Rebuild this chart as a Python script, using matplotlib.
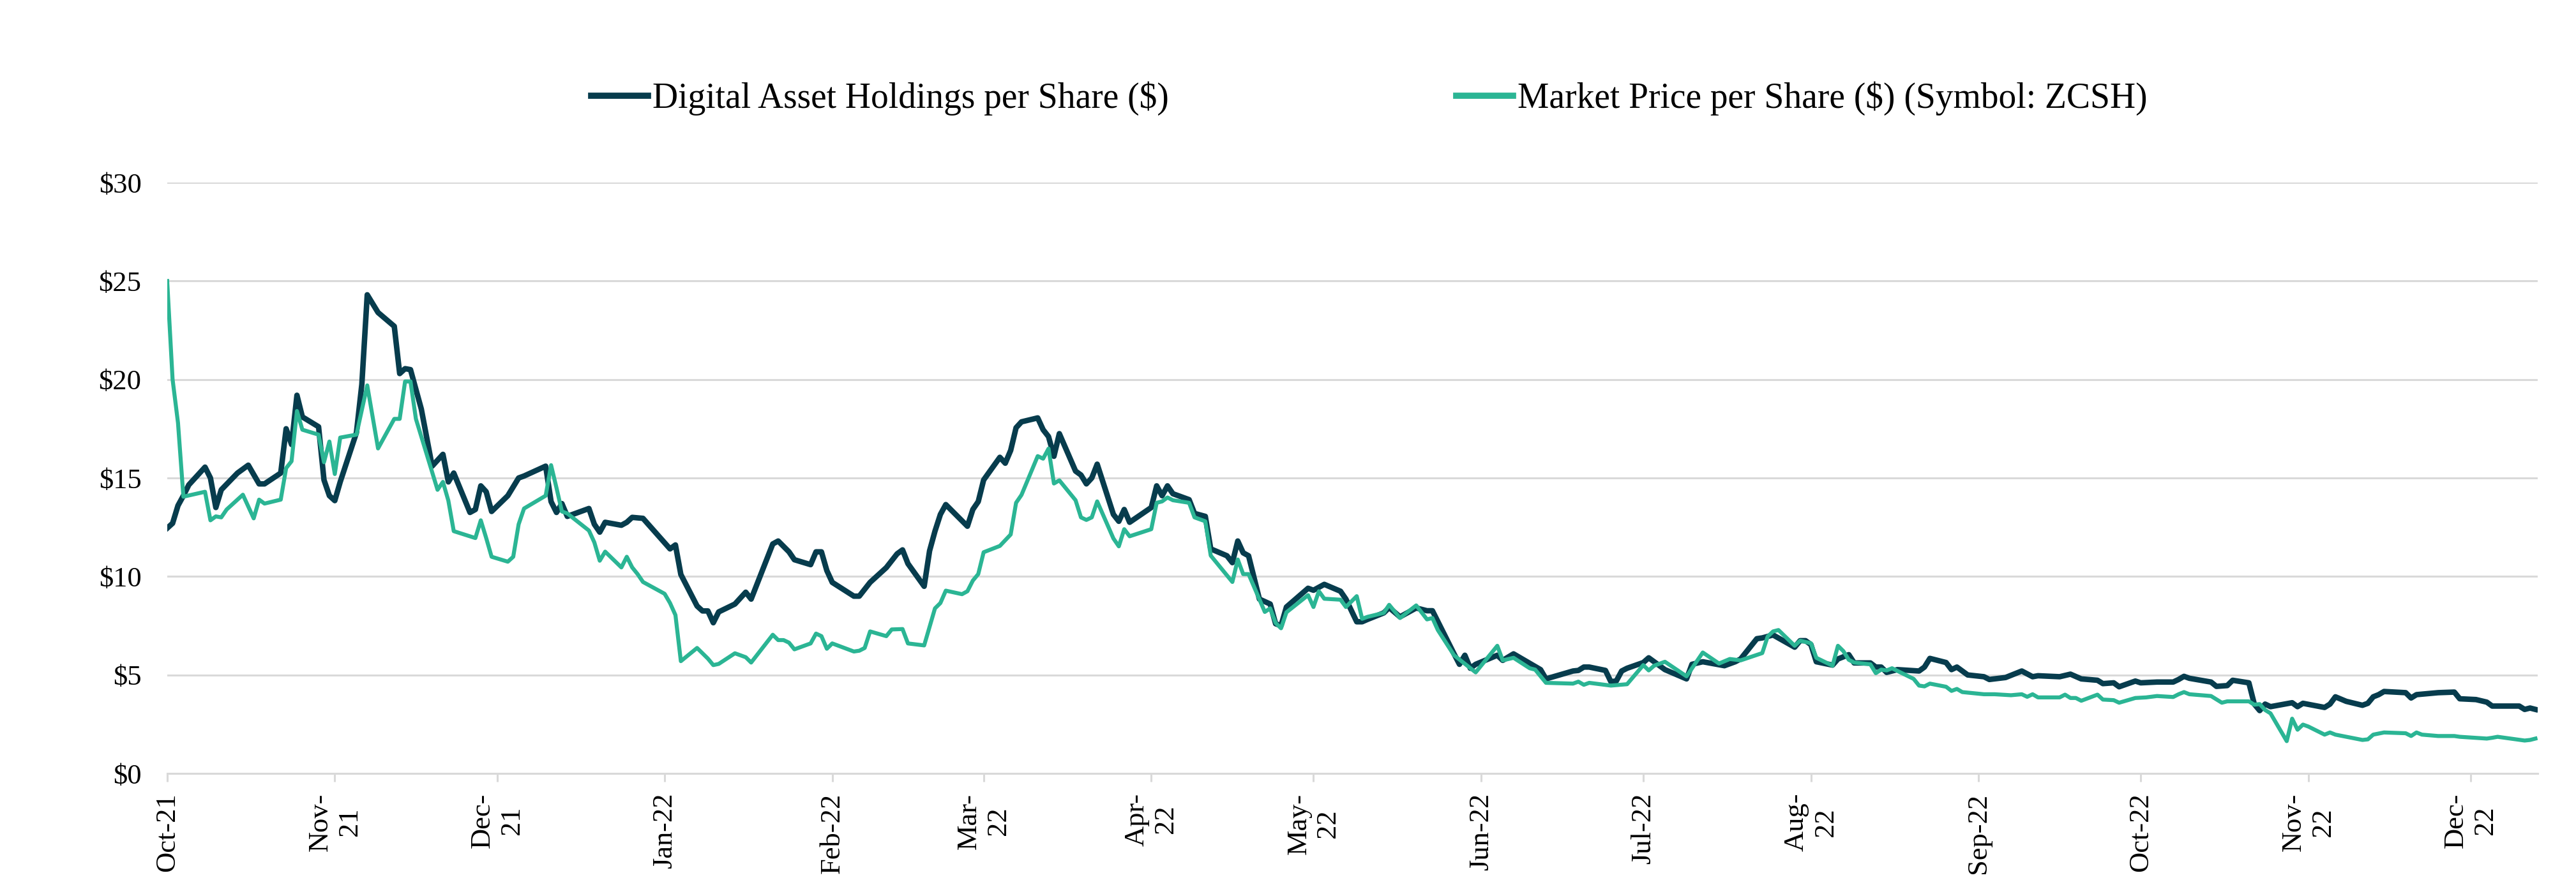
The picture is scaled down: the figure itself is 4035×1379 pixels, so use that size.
import matplotlib.pyplot as plt
import pandas as pd

plt.rcParams["font.family"] = ["Liberation Serif", "DejaVu Serif"]

start = pd.Timestamp("2021-10-01")

# Digital asset holdings per share (days since 2021-10-01, $)
holdings_day = [0, 1, 2, 3, 4, 7, 8, 9, 10, 13, 15, 17, 18, 21, 22, 23, 24, 25, 28, 29,
                30, 31, 32, 35, 36, 37, 39, 42, 43, 44, 45, 47, 49, 51, 52, 53, 56, 57, 58, 59,
                60, 63, 65, 66, 70, 71, 72, 73, 74, 78, 79, 80, 81, 84, 85, 86, 88, 93, 94, 95,
                98, 99, 100, 101, 102, 105, 107, 108, 112, 113, 115, 116, 119, 120, 121, 122, 123, 127, 128, 130,
                133, 135, 136, 137, 140, 141, 142, 143, 144, 148, 149, 150, 151, 154, 155, 156, 157, 158, 161, 162,
                163, 164, 165, 168, 169, 170, 171, 172, 175, 176, 177, 178, 182, 183, 184, 185, 186, 189, 190, 192,
                193, 196, 197, 198, 199, 200, 202, 204, 205, 206, 207, 211, 212, 214, 217, 218, 220, 221, 222, 225,
                226, 228, 231, 233, 234, 238, 239, 240, 241, 242, 246, 247, 249, 254, 255, 260, 261, 262, 263, 266,
                267, 268, 269, 270, 273, 274, 277, 281, 282, 284, 288, 290, 291, 294, 295, 297, 301, 302, 303, 304,
                305, 308, 309, 311, 312, 315, 316, 317, 318, 320, 324, 325, 326, 329, 330, 331, 332, 333, 336, 337,
                340, 343, 345, 346, 350, 352, 354, 357, 358, 360, 361, 364, 365, 368, 371, 372, 373, 374, 378, 379,
                381, 382, 385, 386, 387, 388, 389, 393, 394, 395, 399, 400, 401, 403, 406, 407, 408, 409, 410, 414,
                415, 416, 420, 423, 424, 427, 429, 430, 435, 436, 437, 438]
holdings_val = [12.45, 12.7, 13.6, 14.1, 14.65, 15.55, 15.0, 13.5, 14.4, 15.25, 15.65, 14.7, 14.7, 15.25, 17.5, 16.7, 19.2, 18.1, 17.6, 14.9,
                14.1, 13.85, 14.8, 17.3, 19.75, 24.3, 23.4, 22.7, 20.3, 20.55, 20.5, 18.5, 15.6, 16.2, 14.8, 15.25, 13.25, 13.4, 14.6, 14.3,
                13.3, 14.1, 15.0, 15.1, 15.6, 13.8, 13.25, 13.7, 13.05, 13.45, 12.65, 12.25, 12.75, 12.6, 12.75, 13.0, 12.95, 11.4, 11.6, 10.1,
                8.5, 8.25, 8.25, 7.65, 8.2, 8.6, 9.2, 8.85, 11.65, 11.8, 11.25, 10.85, 10.6, 11.25, 11.25, 10.3, 9.7, 9.0, 9.0, 9.7,
                10.45, 11.15, 11.35, 10.65, 9.5, 11.3, 12.3, 13.15, 13.65, 12.55, 13.4, 13.8, 14.9, 16.05, 15.75, 16.4, 17.55, 17.85, 18.05, 17.45,
                17.1, 16.1, 17.25, 15.35, 15.15, 14.7, 15.0, 15.7, 13.15, 12.8, 13.4, 12.75, 13.5, 14.6, 14.1, 14.6, 14.2, 13.9, 13.2, 13.05,
                11.4, 11.05, 10.7, 11.8, 11.2, 11.05, 8.85, 8.6, 7.6, 7.5, 8.45, 9.4, 9.3, 9.6, 9.25, 8.85, 7.7, 7.7, 7.82, 8.15,
                8.42, 7.95, 8.4, 8.26, 8.26, 6.07, 5.54, 6.0, 5.34, 5.54, 6.0, 5.74, 6.07, 5.27, 4.8, 5.2, 5.23, 5.4, 5.4, 5.23,
                4.66, 4.69, 5.2, 5.34, 5.63, 5.87, 5.27, 4.8, 5.54, 5.67, 5.47, 5.67, 5.81, 6.84, 6.88, 7.03, 6.41, 6.74, 6.74, 6.54,
                5.67, 5.5, 5.81, 6.03, 5.61, 5.61, 5.4, 5.4, 5.13, 5.27, 5.2, 5.4, 5.84, 5.63, 5.27, 5.4, 5.2, 5.0, 4.91, 4.77,
                4.87, 5.2, 4.91, 4.96, 4.91, 5.04, 4.8, 4.73, 4.56, 4.6, 4.4, 4.69, 4.6, 4.64, 4.64, 4.77, 4.93, 4.83, 4.64, 4.42,
                4.46, 4.73, 4.6, 3.52, 3.19, 3.52, 3.39, 3.59, 3.39, 3.56, 3.35, 3.52, 3.89, 3.66, 3.46, 3.56, 3.89, 4.0, 4.16, 4.1,
                3.83, 4.0, 4.1, 4.13, 3.79, 3.75, 3.62, 3.42, 3.42, 3.25, 3.32, 3.25]

# Market price per share (ZCSH)
price_day = [0, 1, 2, 3, 7, 8, 9, 10, 11, 14, 16, 17, 18, 21, 22, 23, 24, 25, 28, 29,
             30, 31, 32, 35, 37, 39, 42, 43, 44, 45, 46, 50, 51, 52, 53, 57, 58, 59, 60, 63,
             64, 65, 66, 70, 71, 72, 73, 74, 78, 79, 80, 81, 84, 85, 86, 87, 88, 92, 93, 94,
             95, 98, 100, 101, 102, 105, 107, 108, 112, 113, 114, 115, 116, 119, 120, 121, 122, 123, 127, 128,
             129, 130, 133, 134, 136, 137, 140, 142, 143, 144, 147, 148, 149, 150, 151, 154, 156, 157, 158, 161,
             162, 163, 164, 165, 168, 169, 170, 171, 172, 175, 176, 177, 178, 182, 183, 184, 185, 186, 189, 190,
             192, 193, 197, 198, 199, 200, 203, 204, 205, 206, 207, 211, 212, 213, 214, 217, 218, 220, 221, 222,
             225, 226, 228, 231, 233, 234, 235, 238, 242, 246, 247, 249, 252, 253, 255, 260, 261, 262, 263, 267,
             270, 273, 274, 275, 277, 281, 284, 287, 289, 291, 295, 296, 297, 298, 301, 302, 304, 305, 308, 309,
             310, 311, 312, 315, 316, 317, 318, 319, 323, 324, 325, 326, 329, 330, 331, 332, 336, 338, 341, 343,
             344, 345, 346, 350, 351, 352, 353, 354, 357, 358, 360, 361, 364, 366, 368, 371, 372, 373, 374, 378,
             380, 381, 385, 386, 387, 388, 389, 392, 393, 394, 395, 396, 399, 400, 401, 406, 407, 408, 410, 414,
             415, 416, 417, 420, 423, 424, 429, 430, 431, 436, 437, 438]
price_val = [25.0, 20.0, 17.8, 14.05, 14.3, 12.85, 13.05, 13.0, 13.4, 14.15, 12.95, 13.9, 13.7, 13.9, 15.5, 15.85, 18.4, 17.45, 17.2, 15.8,
             16.85, 15.2, 17.05, 17.2, 19.7, 16.5, 18.0, 18.0, 19.9, 19.9, 18.0, 14.4, 14.8, 13.85, 12.3, 11.95, 12.85, 11.95, 11.0, 10.75,
             11.0, 12.65, 13.45, 14.1, 15.65, 14.5, 13.3, 13.2, 12.33, 11.73, 10.8, 11.26, 10.46, 11.0, 10.46, 10.12, 9.72, 9.12, 8.65, 8.04,
             5.7, 6.37, 5.83, 5.5, 5.56, 6.1, 5.9, 5.63, 7.04, 6.77, 6.77, 6.64, 6.3, 6.6, 7.1, 6.97, 6.33, 6.6, 6.19, 6.23,
             6.37, 7.21, 6.97, 7.31, 7.33, 6.6, 6.5, 8.38, 8.65, 9.28, 9.1, 9.25, 9.79, 10.12, 11.23, 11.55, 12.13, 13.74, 14.14, 16.11,
             15.98, 16.49, 14.72, 14.88, 13.87, 13.0, 12.87, 13.0, 13.81, 11.93, 11.53, 12.4, 12.04, 12.4, 13.74, 13.81, 14.01, 13.87, 13.74, 13.0,
             12.8, 11.06, 9.72, 10.86, 10.12, 10.12, 8.2, 8.38, 7.64, 7.37, 8.18, 9.05, 8.45, 9.25, 8.87, 8.82, 8.45, 9.0, 7.85, 7.95,
             8.15, 8.56, 7.89, 8.53, 7.82, 7.89, 7.28, 6.0, 5.13, 6.48, 5.74, 5.87, 5.34, 5.27, 4.6, 4.56, 4.66, 4.5, 4.6, 4.46,
             4.53, 5.5, 5.23, 5.47, 5.67, 4.93, 6.14, 5.58, 5.81, 5.74, 6.11, 6.95, 7.21, 7.28, 6.48, 6.74, 6.61, 5.87, 5.47, 6.48,
             6.21, 5.77, 5.63, 5.54, 5.09, 5.27, 5.23, 5.34, 4.8, 4.46, 4.42, 4.56, 4.4, 4.19, 4.29, 4.13, 4.02, 4.02, 3.97, 4.02,
             3.89, 4.02, 3.86, 3.86, 4.0, 3.83, 3.83, 3.69, 4.0, 3.75, 3.72, 3.59, 3.83, 3.86, 3.93, 3.88, 4.02, 4.13, 4.02, 3.93,
             3.59, 3.66, 3.66, 3.49, 3.52, 3.22, 3.05, 1.64, 2.78, 2.22, 2.48, 2.38, 1.97, 2.08, 1.97, 1.7, 1.73, 1.97, 2.08, 2.04,
             1.9, 2.08, 1.97, 1.9, 1.9, 1.86, 1.77, 1.81, 1.86, 1.67, 1.7, 1.77]

month_starts = pd.date_range("2021-10-01", "2022-12-01", freq="MS")
month_labels = ["Oct-21", "Nov-\n21", "Dec-\n21", "Jan-22", "Feb-22", "Mar-\n22", "Apr-\n22",
                "May-\n22", "Jun-22", "Jul-22", "Aug-\n22", "Sep-22", "Oct-22", "Nov-\n22", "Dec-\n22"]
y_ticks = [0, 5, 10, 15, 20, 25, 30]

dark = "#073C4D"
green = "#2BB594"
grid = "#D9D9D9"

holdings_dates = start + pd.to_timedelta(holdings_day, unit="D")
price_dates = start + pd.to_timedelta(price_day, unit="D")

fig = plt.figure(figsize=(40.35, 13.79), dpi=100)
ax = fig.add_axes([0.0649, 0.1211, 0.9202, 0.6715])

ax.plot(holdings_dates, holdings_val, color=dark, lw=6.2, solid_joinstyle="round",
        label="Digital Asset Holdings per Share ($)", zorder=3)
ax.plot(price_dates, price_val, color=green, lw=4.5, solid_joinstyle="round",
        label="Market Price per Share ($) (Symbol: ZCSH)", zorder=4)

ax.set_ylim(0, 30)
ax.set_xlim(start, start + pd.Timedelta(days=438.4))
ax.set_yticks(y_ticks)
ax.set_yticklabels([f"${v}" for v in y_ticks])
ax.set_xticks(month_starts)
ax.set_xticklabels(month_labels, rotation=90, ha="center", va="top", multialignment="center")

ax.grid(axis="y", color=grid, lw=2.2)
ax.set_axisbelow(True)
for side in ["top", "right", "left"]:
    ax.spines[side].set_visible(False)
ax.spines["bottom"].set_color(grid)
ax.spines["bottom"].set_linewidth(2.2)

ax.tick_params(axis="y", length=0, pad=29, labelsize=32)
ax.tick_params(axis="x", length=9, width=2.2, color=grid, pad=13, labelsize=32)

leg = fig.legend(loc="center", bbox_to_anchor=(0.5315, 0.888), ncol=2, frameon=False,
                 fontsize=40, handlelength=1.6, handletextpad=0.13, columnspacing=8.1)
for line in leg.get_lines():
    line.set_linewidth(7)

fig.savefig("out.png", dpi=100, facecolor="white")
